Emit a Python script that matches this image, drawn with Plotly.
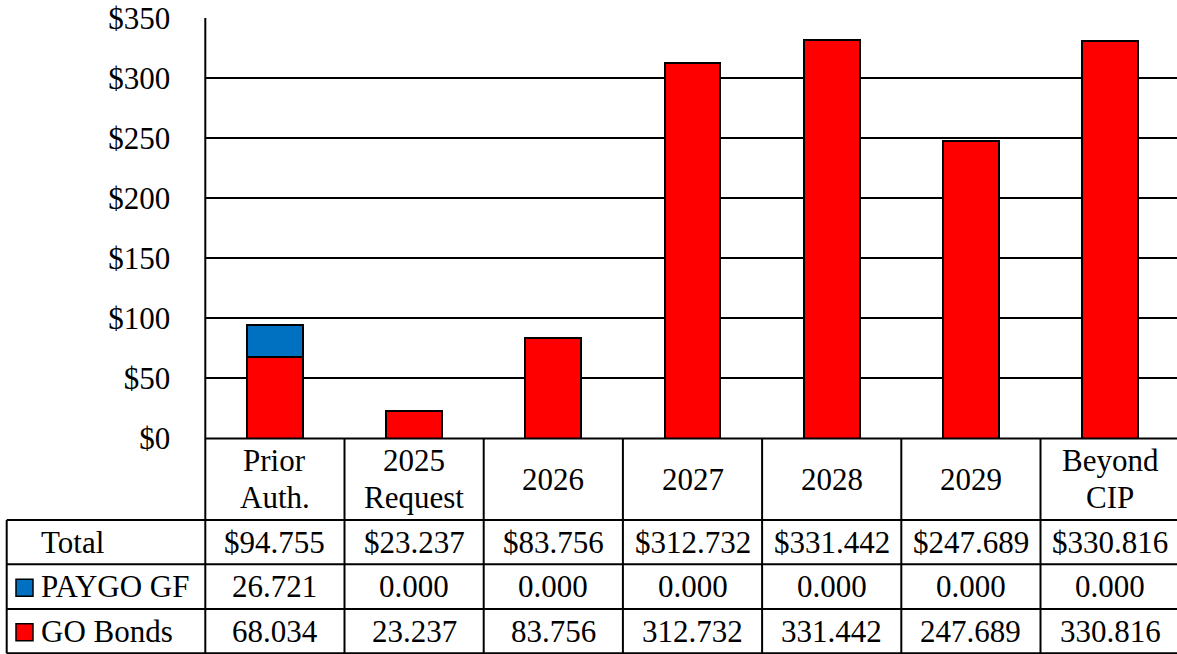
import plotly.graph_objects as go

categories = ["Prior<br>Auth.", "2025<br>Request", "2026", "2027", "2028", "2029", "Beyond<br>CIP"]
go_bonds = [68.034, 23.237, 83.756, 312.732, 331.442, 247.689, 330.816]
paygo_gf = [26.721, 0.000, 0.000, 0.000, 0.000, 0.000, 0.000]
totals = [94.755, 23.237, 83.756, 312.732, 331.442, 247.689, 330.816]
y_ticks = [0, 50, 100, 150, 200, 250, 300, 350]
y_tick_labels = ["$" + str(v) for v in y_ticks]

RED = "#FF0000"
BLUE = "#0070C0"
FONT = "Liberation Serif"
FS = 31

W, H = 1177, 654
X0 = 205.3          # left edge of plot area (px)
COLW = 139.2        # column width (px)
Y0, Y350 = 438.5, 18.0
TBL_LEFT = 6.7
ROW_TOP = [438.5, 520.0, 564.3, 609.0, 653.3]

def px(xp):
    return xp / W

def py(yp):
    return 1 - yp / H

xs = list(range(len(categories)))

fig = go.Figure()
fig.add_trace(go.Bar(x=xs, y=go_bonds, name="GO Bonds", marker=dict(color=RED, line=dict(color="black", width=2)), width=0.4))
fig.add_trace(go.Bar(x=xs, y=paygo_gf, name="PAYGO GF", marker=dict(color=BLUE, line=dict(color="black", width=2)), width=0.4))

x_range = [-0.5, -0.5 + (W - X0) / COLW]

shapes = []
annotations = []
line = dict(color="black", width=2)

def col_edge(i):
    return X0 + i * COLW

def col_center(i):
    return X0 + (i + 0.5) * COLW

def txt(text, xp, yp, anchor="center"):
    annotations.append(dict(text=text, xref="paper", yref="paper", x=px(xp), y=py(yp), showarrow=False,
                            xanchor=anchor, yanchor="middle", font=dict(family=FONT, size=FS, color="black")))

# left axis line extended down through table
shapes.append(dict(type="line", xref="paper", yref="paper", x0=px(X0), x1=px(X0), y0=py(Y350), y1=py(ROW_TOP[-1]), line=line))
# header column separators
for i in range(1, len(categories) + 1):
    shapes.append(dict(type="line", xref="paper", yref="paper", x0=px(col_edge(i)), x1=px(col_edge(i)), y0=py(ROW_TOP[0]), y1=py(ROW_TOP[-1]), line=line))
# baseline
shapes.append(dict(type="line", xref="paper", yref="paper", x0=px(X0), x1=px(col_edge(7)), y0=py(ROW_TOP[0]), y1=py(ROW_TOP[0]), line=line))
# row lines
for r in ROW_TOP[1:]:
    shapes.append(dict(type="line", xref="paper", yref="paper", x0=px(TBL_LEFT), x1=px(col_edge(7)), y0=py(r), y1=py(r), line=line))
shapes.append(dict(type="line", xref="paper", yref="paper", x0=px(TBL_LEFT), x1=px(TBL_LEFT), y0=py(ROW_TOP[1]), y1=py(ROW_TOP[-1]), line=line))

# header labels
hc = (ROW_TOP[0] + ROW_TOP[1]) / 2
for i, c in enumerate(categories):
    parts = c.split("<br>")
    if len(parts) == 1:
        txt(parts[0], col_center(i), hc)
    else:
        txt(parts[0], col_center(i), hc - 18.5)
        txt(parts[1], col_center(i), hc + 18.5)

rows = [
    ("Total", ["$" + f"{v:.3f}" for v in totals], None),
    ("PAYGO GF", [f"{v:.3f}" for v in paygo_gf], BLUE),
    ("GO Bonds", [f"{v:.3f}" for v in go_bonds], RED),
]
for r, (label, vals, key) in enumerate(rows):
    yc = (ROW_TOP[r + 1] + ROW_TOP[r + 2]) / 2
    txt(label, 38.5, yc, "left")
    if key:
        shapes.append(dict(type="rect", xref="paper", yref="paper", x0=px(16), x1=px(33), y0=py(yc - 7.5), y1=py(yc + 9.5),
                           fillcolor=key, line=dict(color="black", width=1.5)))
    for i, v in enumerate(vals):
        txt(v, col_center(i), yc)

fig.update_layout(
    width=W, height=H, margin=dict(l=0, r=0, t=0, b=0, autoexpand=False),
    barmode="stack", showlegend=False,
    paper_bgcolor="white", plot_bgcolor="white",
    font=dict(family=FONT, size=FS, color="black"),
    xaxis=dict(domain=[px(X0), 1], range=x_range, showticklabels=False, showgrid=False, zeroline=False, showline=False,
               ticks="", automargin=False),
    yaxis=dict(domain=[py(Y0), py(Y350)], range=[0, 350], tickvals=y_ticks, ticktext=y_tick_labels,
               showgrid=True, gridcolor="black", gridwidth=2, zeroline=False, showline=False, ticks="",
               ticklabelstandoff=34, automargin=False, tickfont=dict(family=FONT, size=FS, color="black")),
    shapes=shapes, annotations=annotations,
)

fig.write_html("out.html")
